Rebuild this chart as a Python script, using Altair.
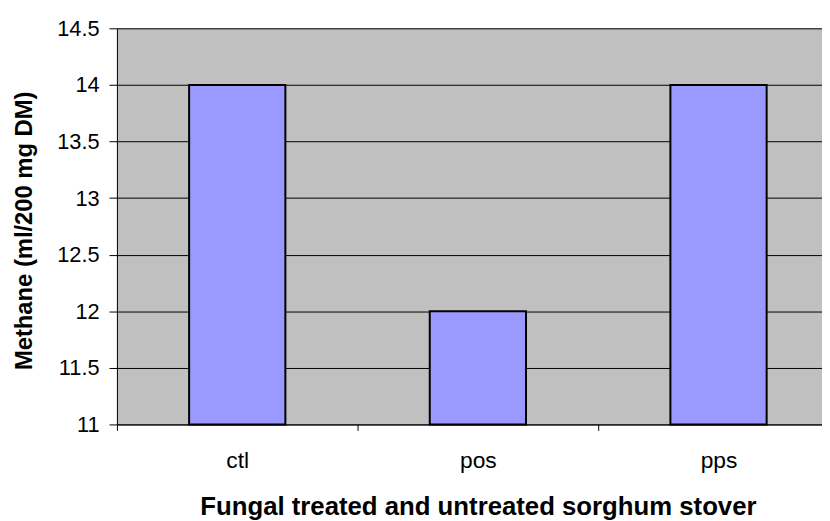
import altair as alt
import pandas as pd

categories = ["ctl", "pos", "pps"]
methane = [14.0, 12.0, 14.0]
y_ticks = [11, 11.5, 12, 12.5, 13, 13.5, 14, 14.5]
y_min, y_max = 11, 14.5

df = pd.DataFrame({"cat": categories, "val": methane})

FONT = "Liberation Sans"

chart = (
    alt.Chart(df)
    .mark_bar(color="#9999FF", stroke="black", strokeWidth=2,
              width=alt.RelativeBandSize(0.4))
    .encode(
        x=alt.X(
            "cat:N",
            sort=categories,
            scale=alt.Scale(range=[0, 729], paddingInner=0, paddingOuter=0),
            axis=alt.Axis(
                title="Fungal treated and untreated sorghum stover",
                titleFont=FONT,
                titleFontSize=26,
                titleFontWeight="bold",
                titleColor="black",
                titleBaseline="alphabetic",
                titleY=91,
                labelAngle=0,
                labelFont=FONT,
                labelFontSize=23,
                labelColor="black",
                labelPadding=20,
                labelBaseline="top",
                tickBand="extent",
                tickSize=6,
                tickColor="black",
                domainColor="black",
                domainWidth=1,
                grid=False,
            ),
        ),
        y=alt.Y(
            "val:Q",
            scale=alt.Scale(domain=[y_min, y_max], nice=False, zero=False),
            axis=alt.Axis(
                title="Methane (ml/200 mg DM)",
                titleFont=FONT,
                titleFontSize=24,
                titleFontWeight="bold",
                titleColor="black",
                titleAngle=-90,
                titleAlign="center",
                titleBaseline="middle",
                titleX=-93,
                titleY=204,
                values=y_ticks,
                format="~g",
                labelFont=FONT,
                labelFontSize=22,
                labelColor="black",
                labelPadding=10,
                tickSize=8,
                tickColor="black",
                domainColor="black",
                domainWidth=1,
                grid=True,
                gridColor="black",
                gridWidth=1,
                gridOpacity=1,
            ),
        ),
        y2=alt.datum(y_min),
    )
    .properties(
        width=712,
        height=400,
        autosize=alt.AutoSizeParams(type="none"),
        padding={"left": 110, "top": 18, "right": 0, "bottom": 95},
    )
    .configure_view(fill="#C0C0C0", stroke=None)
)

chart.save("out.html", embed_options={"renderer": "svg", "actions": False})
